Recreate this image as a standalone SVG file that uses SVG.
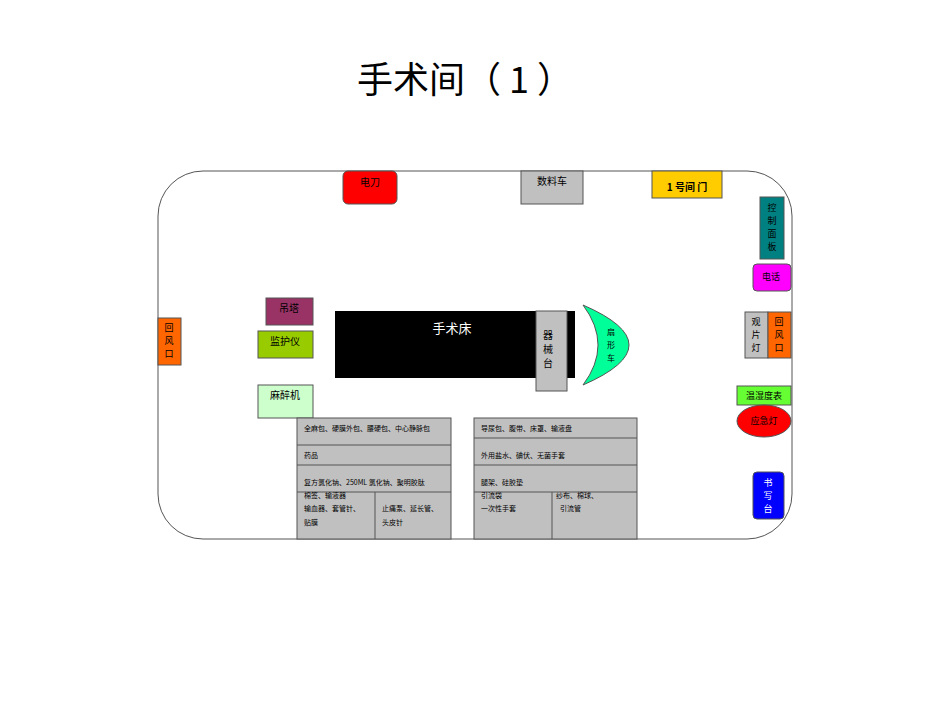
<svg xmlns="http://www.w3.org/2000/svg" width="950" height="713" viewBox="0 0 950 713">
<style>
text{font-family:"Noto Sans CJK SC","Liberation Serif",serif;font-size:10px;fill:#000}
.b{stroke:#555;stroke-width:1}
.s{font-size:7px}
.g{fill:#C0C0C0;stroke:#555}
</style>
<rect width="950" height="713" fill="#fff"/>
<text x="465" y="93" text-anchor="middle" style="font-size:36px;font-family:'Noto Sans CJK SC',serif">手术间（ 1 ）</text>
<g id="room"><rect x="158" y="171" width="634" height="368" rx="45" fill="none" stroke="#555"/></g>
<g id="diandao"><rect class="b" x="343" y="171" width="54" height="33" rx="5" fill="#FF0000"/><text x="370" y="186" text-anchor="middle">电刀</text></g>
<g id="shuliaoche"><rect class="g" x="521" y="171" width="62" height="33"/><text x="552" y="185" text-anchor="middle">数料车</text></g>
<g id="door"><rect class="b" x="652" y="171" width="70" height="27" fill="#FFCC00"/><text x="687" y="191" text-anchor="middle" style="font-weight:bold">1 号间  门</text></g>
<g id="kongzhi"><rect class="b" x="760" y="197" width="24" height="62" fill="#008080"/><text x="772" y="211" text-anchor="middle" style="font-size:9px">控</text><text x="772" y="224" text-anchor="middle" style="font-size:9px">制</text><text x="772" y="237" text-anchor="middle" style="font-size:9px">面</text><text x="772" y="250" text-anchor="middle" style="font-size:9px">板</text></g>
<g id="dianhua"><rect class="b" x="753" y="264" width="38" height="27" rx="4" fill="#FF00FF"/><text x="771" y="280" text-anchor="middle" style="font-size:9px">电话</text></g>
<g id="guanpiandeng"><rect class="g" x="745" y="312" width="23" height="46"/><text x="756" y="325" text-anchor="middle" style="font-size:9px">观</text><text x="756" y="338" text-anchor="middle" style="font-size:9px">片</text><text x="756" y="351" text-anchor="middle" style="font-size:9px">灯</text></g>
<g id="huifeng-r"><rect class="b" x="768" y="312" width="23" height="46" fill="#FF6600"/><text x="779" y="325" text-anchor="middle" style="font-size:9px">回</text><text x="779" y="338" text-anchor="middle" style="font-size:9px">风</text><text x="779" y="351" text-anchor="middle" style="font-size:9px">口</text></g>
<g id="wenshidu"><rect class="b" x="737" y="386" width="54" height="19" fill="#66FF33"/><text x="764" y="399" text-anchor="middle" style="font-size:9px">温湿度表</text></g>
<g id="yingji"><ellipse class="b" cx="764" cy="421" rx="27" ry="16" fill="#FF0000"/><text x="764" y="424" text-anchor="middle" style="font-size:9px">应急灯</text></g>
<g id="shuxie"><rect class="b" x="753" y="472" width="31" height="47" rx="4" fill="#0000FF"/><text x="768" y="486" text-anchor="middle" style="font-size:9px;fill:#fff">书</text><text x="768" y="499" text-anchor="middle" style="font-size:9px;fill:#fff">写</text><text x="768" y="512" text-anchor="middle" style="font-size:9px;fill:#fff">台</text></g>
<g id="huifeng-l"><rect class="b" x="158" y="318" width="23" height="47" fill="#FF6600"/><text x="169" y="331" text-anchor="middle" style="font-size:9px">回</text><text x="169" y="344" text-anchor="middle" style="font-size:9px">风</text><text x="169" y="357" text-anchor="middle" style="font-size:9px">口</text></g>
<g id="diaota"><rect class="b" x="266" y="298" width="47" height="27" fill="#993366"/><text x="289" y="312" text-anchor="middle">吊塔</text></g>
<g id="jianhuyi"><rect class="b" x="258" y="331" width="55" height="27" fill="#99CC00"/><text x="285" y="345" text-anchor="middle">监护仪</text></g>
<g id="mazuiji"><rect class="b" x="258" y="385" width="55" height="33" fill="#CCFFCC"/><text x="285" y="399" text-anchor="middle">麻醉机</text></g>
<g id="bed"><rect x="335" y="311" width="240" height="67" fill="#000"/><text x="452" y="333" text-anchor="middle" style="font-size:13px;fill:#fff">手术床</text></g>
<g id="qixietai"><rect class="g" x="536" y="311" width="31" height="80"/><text x="548" y="339" text-anchor="middle">器</text><text x="548" y="353" text-anchor="middle">械</text><text x="548" y="367" text-anchor="middle">台</text></g>
<g id="shanxing"><path d="M583 305 Q675 345 583 385 Q613 345 583 305 Z" fill="#00FF99" stroke="#555"/><text x="611" y="335" text-anchor="middle" style="font-size:8px">扇</text><text x="611" y="348" text-anchor="middle" style="font-size:8px">形</text><text x="611" y="361" text-anchor="middle" style="font-size:8px">车</text></g>
<g id="table-left">
<rect class="g" x="297" y="418" width="154" height="121"/>
<line x1="297" y1="445" x2="451" y2="445" stroke="#555"/><line x1="297" y1="465" x2="451" y2="465" stroke="#555"/><line x1="297" y1="492" x2="451" y2="492" stroke="#555"/><line x1="375" y1="492" x2="375" y2="539" stroke="#555"/>
<text x="304" y="431" class="s">全麻包、硬膜外包、腰硬包、中心静脉包</text>
<text x="304" y="458" class="s">药品</text>
<text x="304" y="485" class="s">复方氯化钠、250ML 氯化钠、聚明胶肽</text>
<text x="304" y="498" class="s">棉签、输液器</text>
<text x="304" y="511" class="s">输血器、套管针、</text>
<text x="304" y="525" class="s">贴膜</text>
<text x="382" y="511" class="s">止痛泵、延长管、</text>
<text x="382" y="525" class="s">头皮针</text>
</g>
<g id="table-right">
<rect class="g" x="474" y="418" width="163" height="121"/>
<line x1="474" y1="438" x2="637" y2="438" stroke="#555"/><line x1="474" y1="465" x2="637" y2="465" stroke="#555"/><line x1="474" y1="492" x2="637" y2="492" stroke="#555"/><line x1="552" y1="492" x2="552" y2="539" stroke="#555"/>
<text x="481" y="431" class="s">导尿包、腹带、床罩、输液盘</text>
<text x="481" y="458" class="s">外用盐水、碘伏、无菌手套</text>
<text x="481" y="485" class="s">腿架、硅胶垫</text>
<text x="481" y="498" class="s">引流袋</text>
<text x="481" y="511" class="s">一次性手套</text>
<text x="556" y="498" class="s">纱布、棉球、</text>
<text x="560" y="511" class="s">引流管</text>
</g>
</svg>
